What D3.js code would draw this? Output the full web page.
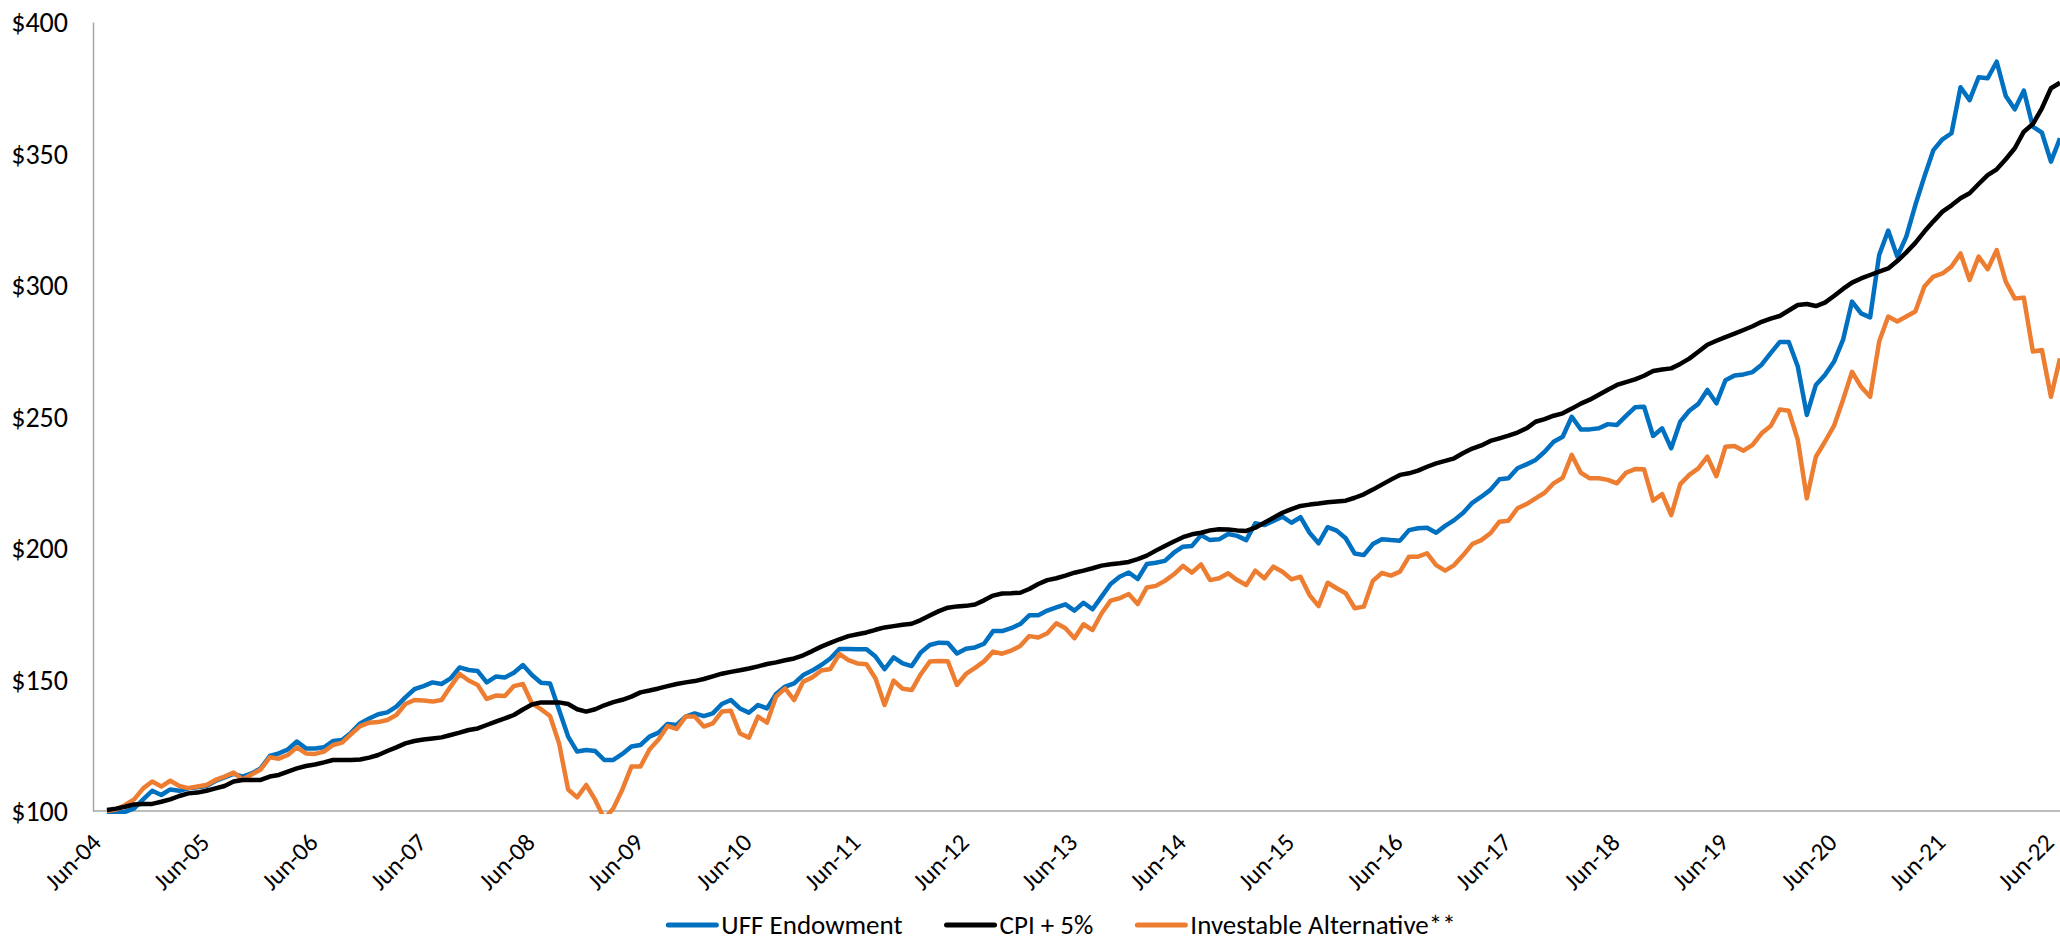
<!doctype html>
<html>

<head>
    <title>endowment growth</title>
    <script src="https://d3js.org/d3.v7.min.js"></script>
</head>

<style>
    body { margin: 0; background: #fff; }
    .axis text { font-family: Calibri, Carlito, Lato, sans-serif; fill: #000; }
    .legend text { font-family: Calibri, Carlito, Lato, sans-serif; fill: #000; }
</style>

<body>

    <script>

    // monthly growth of $100, Jun-04 .. Jun-22 (one value per month)
    var startLabel = 'Jun-04';

    var uffEndowment = [
        99.6, 99.2, 99.7, 101.0, 104.4, 107.7, 106.1, 108.2, 107.7, 108.6, 109.0, 109.5,
        111.4, 112.8, 114.1, 113.1, 114.3, 116.2, 120.9, 121.9, 123.4, 126.4, 123.8, 123.8,
        124.2, 126.6, 127.0, 129.8, 133.3, 135.2, 136.8, 137.5, 139.7, 143.2, 146.3, 147.5,
        148.9, 148.3, 150.4, 154.6, 153.6, 153.2, 148.9, 151.1, 150.8, 152.6, 155.5, 151.7,
        148.8, 148.5, 138.4, 128.3, 122.6, 123.2, 122.8, 119.4, 119.4, 121.7, 124.5, 125.1,
        128.3, 129.8, 133.1, 132.7, 135.9, 137.1, 136.1, 137.1, 140.7, 142.2, 139.0, 137.4,
        140.3, 139.0, 144.5, 147.3, 148.5, 151.7, 153.4, 155.5, 158.0, 161.6, 161.6, 161.5,
        161.5, 158.7, 153.9, 158.4, 156.1, 155.1, 160.3, 163.1, 164.0, 163.9, 159.9, 161.7,
        162.2, 163.6, 168.4, 168.4, 169.5, 171.1, 174.4, 174.4, 176.2, 177.4, 178.6, 176.2,
        179.2, 176.7, 181.5, 186.3, 189.1, 190.7, 188.2, 193.9, 194.4, 195.1, 198.2, 200.5,
        200.8, 204.9, 203.0, 203.3, 205.3, 204.6, 203.0, 209.4, 208.7, 210.3, 211.9, 209.6,
        211.7, 205.8, 201.8, 207.9, 206.6, 203.7, 197.9, 197.3, 201.5, 203.3, 203.0, 202.8,
        206.8, 207.5, 207.7, 205.8, 208.4, 210.6, 213.4, 217.2, 219.5, 222.1, 226.1, 226.5,
        230.3, 231.8, 233.5, 236.6, 240.4, 242.3, 249.9, 245.1, 245.1, 245.5, 247.1, 246.8,
        250.2, 253.5, 253.7, 242.6, 245.5, 237.9, 248.0, 252.2, 254.8, 260.1, 255.0, 263.8,
        265.6, 266.0, 266.9, 269.7, 274.1, 278.3, 278.3, 269.0, 250.6, 262.0, 265.8, 270.8,
        279.1, 293.7, 289.2, 287.7, 311.4, 320.7, 310.8, 318.4, 330.4, 341.2, 351.3, 355.4,
        357.7, 375.2, 370.3, 379.0, 378.6, 384.9, 371.9, 366.8, 373.9, 360.2, 357.9, 346.9,
        355.8
    ];

    var cpiPlus5 = [
        100.4, 100.9, 101.6, 102.5, 102.7, 102.7, 103.5, 104.4, 105.7, 106.7, 107.0, 107.7,
        108.6, 109.5, 111.2, 111.8, 111.8, 111.8, 113.1, 113.7, 115.0, 116.2, 117.1, 117.7,
        118.5, 119.4, 119.4, 119.4, 119.6, 120.3, 121.3, 122.8, 124.2, 125.7, 126.6, 127.2,
        127.6, 128.0, 128.9, 129.8, 130.8, 131.4, 132.7, 134.0, 135.2, 136.5, 138.6, 140.5,
        141.3, 141.3, 141.3, 140.7, 138.7, 137.8, 138.7, 140.2, 141.4, 142.3, 143.5, 145.1,
        145.8, 146.6, 147.5, 148.3, 148.9, 149.4, 150.2, 151.2, 152.2, 152.9, 153.5, 154.2,
        155.0, 155.9, 156.5, 157.3, 158.0, 159.2, 160.8, 162.5, 163.9, 165.3, 166.5, 167.2,
        167.9, 168.9, 169.8, 170.3, 170.8, 171.2, 172.6, 174.3, 176.0, 177.3, 177.8, 178.0,
        178.5, 180.1, 181.9, 182.7, 182.8, 183.0, 184.4, 186.3, 187.8, 188.5, 189.5, 190.6,
        191.4, 192.3, 193.3, 193.8, 194.2, 194.7, 195.8, 197.1, 199.0, 200.8, 202.5, 204.1,
        205.2, 205.8, 206.7, 207.1, 207.0, 206.7, 206.5, 207.7, 209.6, 211.5, 213.4, 214.8,
        216.0, 216.5, 216.9, 217.4, 217.7, 218.0, 219.1, 220.4, 222.2, 224.1, 226.0, 227.8,
        228.4, 229.4, 230.9, 232.2, 233.1, 234.1, 236.1, 237.8, 239.0, 240.7, 241.7, 242.7,
        243.9, 245.5, 248.0, 249.0, 250.3, 251.2, 253.0, 254.9, 256.4, 258.3, 260.2, 262.0,
        263.1, 264.1, 265.5, 267.3, 267.9, 268.3, 270.0, 272.0, 274.6, 277.3, 278.8, 280.2,
        281.5, 282.9, 284.3, 286.0, 287.2, 288.2, 290.3, 292.4, 292.8, 292.0, 293.3, 295.8,
        298.5, 300.9, 302.5, 303.8, 305.1, 306.3, 309.1, 312.4, 316.0, 320.3, 324.2, 327.9,
        330.3, 333.0, 334.9, 338.4, 341.8, 344.0, 347.8, 352.0, 358.3, 361.2, 367.2, 374.8,
        376.9
    ];

    var investableAlt = [
        100.0, 100.6, 102.3, 104.4, 108.6, 111.2, 109.3, 111.5, 109.5, 108.7, 109.3, 109.9,
        111.8, 113.1, 114.6, 112.0, 113.9, 115.8, 120.4, 119.9, 121.3, 124.2, 121.9, 121.7,
        122.6, 125.1, 126.0, 129.2, 132.3, 133.6, 133.8, 134.6, 136.5, 140.7, 142.2, 142.0,
        141.6, 142.2, 147.3, 152.1, 149.6, 147.9, 142.6, 143.9, 143.7, 147.5, 148.3, 140.9,
        138.7, 136.1, 125.7, 108.2, 105.2, 109.9, 104.2, 97.0, 101.0, 108.2, 116.9, 116.9,
        123.4, 127.2, 132.3, 131.2, 135.9, 135.9, 132.1, 133.3, 137.8, 138.1, 129.5, 127.9,
        135.9, 133.6, 143.5, 146.6, 142.2, 149.2, 150.8, 153.4, 154.0, 159.7, 157.4, 156.1,
        155.8, 150.4, 140.3, 149.6, 146.5, 146.0, 152.0, 156.8, 157.0, 156.9, 147.9, 152.1,
        154.4, 156.9, 160.6, 159.8, 161.0, 162.7, 166.5, 166.0, 167.6, 171.4, 169.5, 165.7,
        171.0, 168.8, 175.2, 180.0, 180.9, 182.5, 178.7, 185.0, 185.6, 187.5, 190.0, 193.2,
        190.6, 193.8, 187.8, 188.5, 190.4, 187.8, 185.9, 191.4, 188.5, 192.9, 191.0, 188.1,
        189.1, 182.1, 177.9, 186.8, 184.7, 182.8, 177.1, 177.7, 187.5, 190.5, 189.5, 191.0,
        196.7, 196.7, 198.0, 193.5, 191.4, 193.5, 197.3, 201.5, 203.0, 205.6, 210.0, 210.4,
        215.1, 216.7, 218.9, 221.0, 224.6, 226.7, 235.4, 228.6, 226.5, 226.5, 225.9, 224.6,
        228.6, 230.0, 229.9, 218.0, 220.5, 212.5, 224.3, 227.8, 230.3, 234.7, 227.3, 238.5,
        238.8, 237.0, 239.2, 243.6, 246.4, 252.7, 252.2, 241.1, 218.9, 234.7, 240.4, 246.4,
        256.3, 267.0, 261.3, 257.5, 278.5, 288.0, 286.1, 288.0, 289.9, 299.4, 303.2, 304.4,
        307.0, 312.0, 301.9, 310.8, 306.0, 313.3, 301.3, 294.9, 295.2, 274.7, 275.3, 257.5,
        272.1
    ];

    // axis labels
    var yTicks = [100, 150, 200, 250, 300, 350, 400];
    var xTickLabels = ['Jun-04', 'Jun-05', 'Jun-06', 'Jun-07', 'Jun-08', 'Jun-09', 'Jun-10',
                       'Jun-11', 'Jun-12', 'Jun-13', 'Jun-14', 'Jun-15', 'Jun-16', 'Jun-17',
                       'Jun-18', 'Jun-19', 'Jun-20', 'Jun-21', 'Jun-22'];

    var seriesNames = ['UFF Endowment', 'CPI + 5%', 'Investable Alternative**'];
    var seriesColors = ['#0070C0', '#000000', '#ED7D31'];

    //set canvas parameters
    var canvasWidth = 2060;
    var canvasHeight = 940;
    var plotLeft = 93;
    var plotTop = 22;
    var plotBottom = 811;

    var svg = d3.select('body')
                .append('svg')
                .attr('width', canvasWidth)
                .attr('height', canvasHeight);

    // month index -> x, value -> y
    var xScale = d3.scaleLinear()
                   .domain([0, uffEndowment.length - 1])
                   .range([107, 2060]);

    var yScale = d3.scaleLinear()
                   .domain([100, 400])
                   .range([plotBottom, plotTop]);

    // y axis
    var yAxis = d3.axisLeft(yScale)
                  .tickValues(yTicks)
                  .tickSize(0)
                  .tickPadding(25)
                  .tickFormat(function(d) { return '$' + d; });

    var yG = svg.append('g')
                .attr('class', 'axis')
                .attr('transform', 'translate(' + plotLeft + ', 0)')
                .call(yAxis);
    yG.select('.domain').attr('stroke', '#A6A6A6').attr('stroke-width', 1.5);
    yG.selectAll('text').style('font-size', '28px').attr('dy', '0.34em');

    // x axis line
    svg.append('line')
       .attr('x1', plotLeft)
       .attr('x2', canvasWidth)
       .attr('y1', plotBottom)
       .attr('y2', plotBottom)
       .attr('stroke', '#A6A6A6')
       .attr('stroke-width', 1.5);

    // x axis labels, one a year
    var xAxis = d3.axisBottom(xScale)
                  .tickValues(xTickLabels.map(function(d, i) { return i * 12; }))
                  .tickSize(0)
                  .tickFormat(function(d) { return xTickLabels[d / 12]; });

    var xG = svg.append('g')
                .attr('class', 'axis')
                .attr('transform', 'translate(0, ' + plotBottom + ')')
                .call(xAxis);
    xG.select('.domain').remove();
    xG.selectAll('text')
      .style('font-size', '25px')
      .style('text-anchor', 'end')
      .attr('x', 0)
      .attr('y', 0)
      .attr('dy', 0)
      .attr('transform', 'translate(-5, 33) rotate(-45)');

    // clip lines to the plot area
    svg.append('clipPath')
       .attr('id', 'plotClip')
       .append('rect')
       .attr('x', plotLeft)
       .attr('y', 0)
       .attr('width', canvasWidth - plotLeft)
       .attr('height', plotBottom + 3);

    var line = d3.line()
                 .x(function(d, i) { return xScale(i); })
                 .y(function(d) { return yScale(d); });

    var allSeries = [uffEndowment, cpiPlus5, investableAlt];

    // draw order: endowment, alternative, then cpi on top
    var drawOrder = [0, 2, 1];
    svg.append('g')
       .attr('clip-path', 'url(#plotClip)')
       .selectAll('path')
       .data(drawOrder)
       .enter()
       .append('path')
       .attr('d', function(k) { return line(allSeries[k]); })
       .attr('fill', 'none')
       .attr('stroke', function(k) { return seriesColors[k]; })
       .attr('stroke-width', 4.5)
       .attr('stroke-linejoin', 'round');

    // legend along the bottom
    var legend = svg.append('g').attr('class', 'legend');
    var legendY = 925;
    var swatch = 52;
    var gap = 42;
    var cursor = 0;

    seriesNames.forEach(function(name, k) {
        var item = legend.append('g').attr('transform', 'translate(' + cursor + ', 0)');
        item.append('line')
            .attr('x1', 2)
            .attr('x2', swatch - 2)
            .attr('y1', legendY)
            .attr('y2', legendY)
            .attr('stroke', seriesColors[k])
            .attr('stroke-width', 5)
            .attr('stroke-linecap', 'round');
        var label = item.append('text')
            .attr('x', swatch + 3)
            .attr('y', legendY)
            .attr('dy', '0.35em')
            .style('font-size', '27px')
            .text(name);
        cursor += swatch + 3 + label.node().getComputedTextLength() + gap;
    });

    var legendWidth = cursor - gap;
    legend.attr('transform', 'translate(' + (1061 - legendWidth / 2) + ', 0)');

    </script>

</body>

</html>
